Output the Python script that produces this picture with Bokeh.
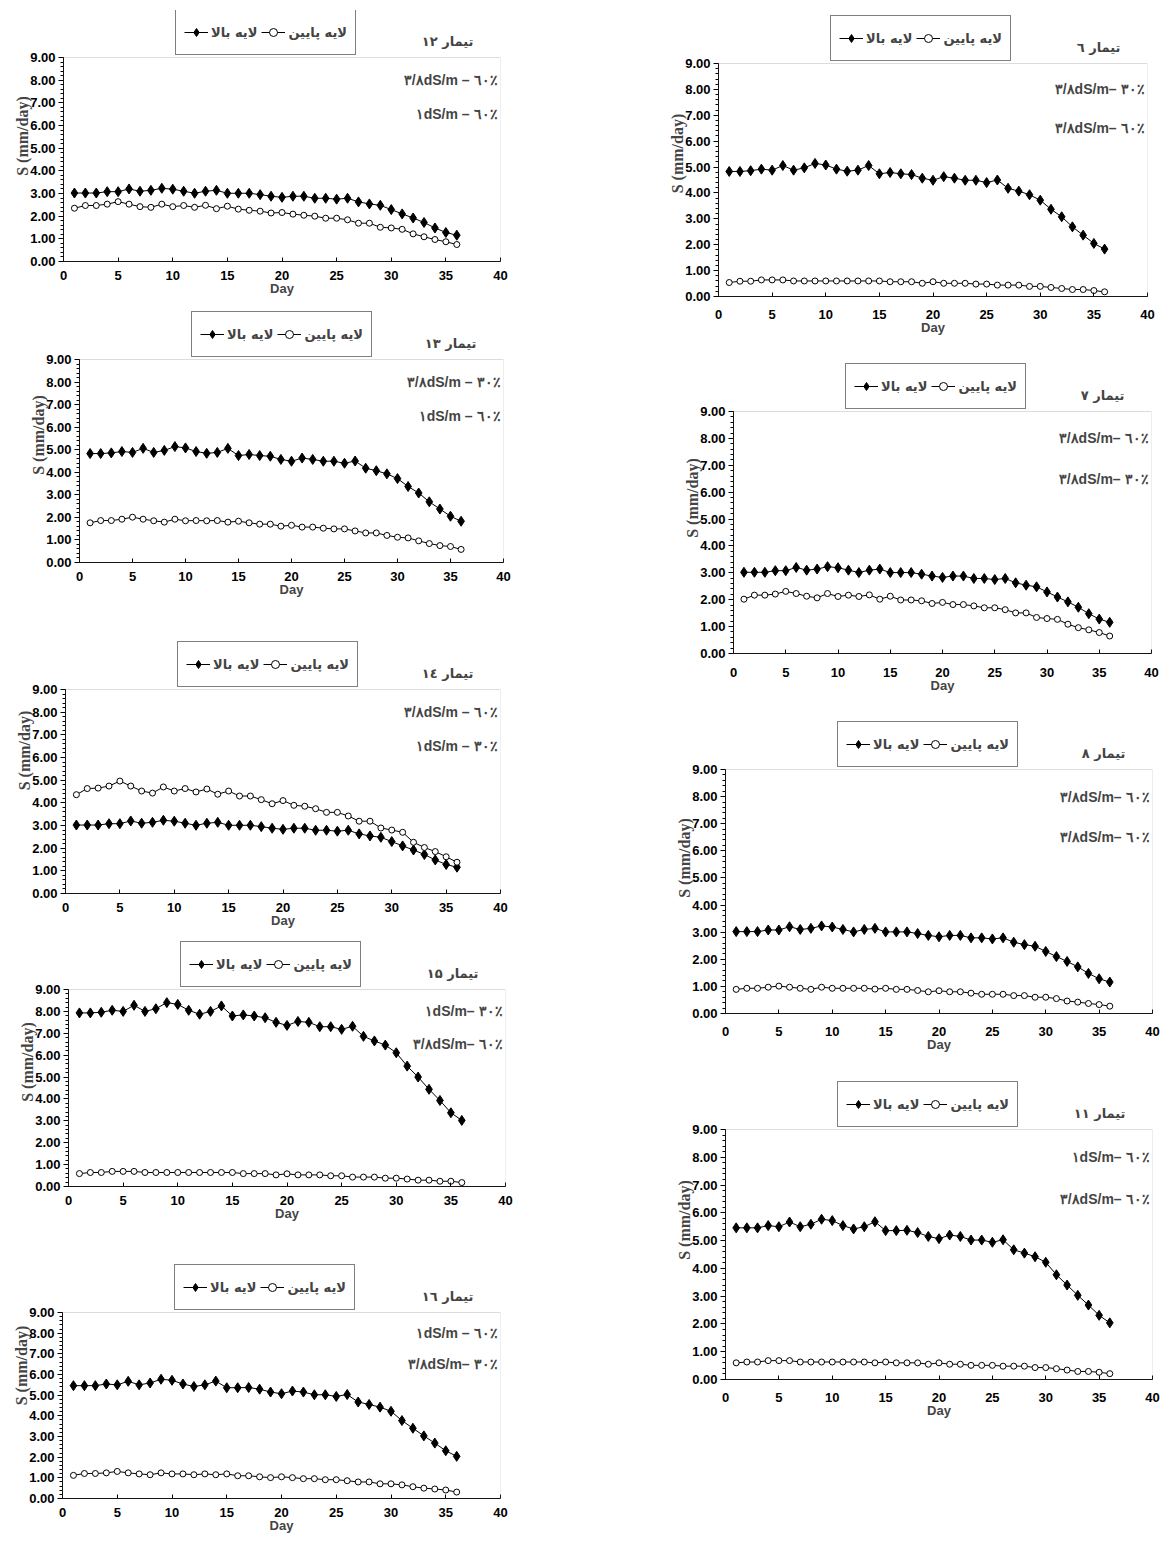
from bokeh.plotting import figure
from bokeh.models import (Range1d, Label, Legend, LegendItem, FixedTicker,
                          NumeralTickFormatter, Spacer, BoxAnnotation)
from bokeh.layouts import row, column
from bokeh.embed import file_html
from bokeh.resources import INLINE

DAYS = list(range(1, 37))
X_TICKS = [0, 5, 10, 15, 20, 25, 30, 35, 40]
Y_TICKS = [0, 1, 2, 3, 4, 5, 6, 7, 8, 9]
LABEL_UP = "لایه بالا"
LABEL_LOW = "لایه پایین"

# upper layer series (shared shapes)
UP_A = [3.02, 3.02, 3.02, 3.08, 3.08, 3.20, 3.10, 3.14, 3.23, 3.19, 3.10, 3.01, 3.10, 3.14, 3.01, 3.01, 3.01, 2.95,
        2.88, 2.83, 2.88, 2.88, 2.79, 2.79, 2.75, 2.79, 2.63, 2.54, 2.48, 2.29, 2.10, 1.92, 1.72, 1.48, 1.28, 1.16]
UP_B = [4.83, 4.83, 4.86, 4.92, 4.88, 5.06, 4.88, 4.97, 5.14, 5.08, 4.92, 4.84, 4.88, 5.06, 4.74, 4.79, 4.74, 4.71,
        4.57, 4.49, 4.63, 4.57, 4.49, 4.49, 4.40, 4.50, 4.18, 4.07, 3.93, 3.72, 3.37, 3.08, 2.69, 2.37, 2.05, 1.83]
UP_C = [5.46, 5.46, 5.46, 5.54, 5.50, 5.67, 5.50, 5.59, 5.77, 5.72, 5.54, 5.42, 5.50, 5.68, 5.36, 5.36, 5.37, 5.29,
        5.15, 5.07, 5.20, 5.15, 5.02, 5.02, 4.94, 5.03, 4.67, 4.55, 4.42, 4.22, 3.77, 3.40, 3.03, 2.68, 2.31, 2.04]
UP_D = [7.93, 7.93, 7.96, 8.05, 8.00, 8.28, 8.00, 8.12, 8.40, 8.32, 8.05, 7.87, 8.00, 8.25, 7.79, 7.84, 7.79, 7.71,
        7.50, 7.36, 7.54, 7.50, 7.30, 7.30, 7.18, 7.32, 6.86, 6.65, 6.46, 6.11, 5.50, 5.00, 4.44, 3.93, 3.37, 3.02]

# lower layer series
LOW_12 = [2.35, 2.47, 2.47, 2.53, 2.64, 2.53, 2.42, 2.39, 2.53, 2.42, 2.47, 2.39, 2.48, 2.33, 2.44, 2.31, 2.26, 2.22,
          2.14, 2.16, 2.09, 2.04, 2.00, 1.91, 1.91, 1.84, 1.69, 1.69, 1.51, 1.48, 1.42, 1.22, 1.09, 0.97, 0.87, 0.75]
LOW_13 = [1.76, 1.86, 1.86, 1.92, 2.01, 1.92, 1.85, 1.79, 1.92, 1.85, 1.86, 1.85, 1.86, 1.79, 1.83, 1.76, 1.70, 1.70,
          1.61, 1.65, 1.57, 1.57, 1.52, 1.49, 1.49, 1.40, 1.31, 1.31, 1.20, 1.12, 1.09, 0.96, 0.84, 0.75, 0.71, 0.58]
LOW_14 = [4.36, 4.63, 4.65, 4.74, 4.96, 4.74, 4.52, 4.43, 4.70, 4.52, 4.63, 4.48, 4.61, 4.38, 4.52, 4.30, 4.30, 4.14,
          3.96, 4.10, 3.89, 3.85, 3.74, 3.58, 3.58, 3.42, 3.19, 3.19, 2.89, 2.80, 2.70, 2.26, 2.03, 1.85, 1.62, 1.38]
LOW_15 = [0.59, 0.64, 0.64, 0.69, 0.69, 0.69, 0.64, 0.64, 0.64, 0.64, 0.64, 0.64, 0.64, 0.64, 0.64, 0.59, 0.59, 0.59,
          0.53, 0.58, 0.53, 0.53, 0.53, 0.49, 0.49, 0.43, 0.43, 0.43, 0.38, 0.38, 0.34, 0.29, 0.29, 0.24, 0.24, 0.18]
LOW_16 = [1.12, 1.21, 1.21, 1.24, 1.31, 1.24, 1.19, 1.15, 1.24, 1.19, 1.19, 1.15, 1.19, 1.15, 1.19, 1.10, 1.10, 1.05,
          1.01, 1.05, 1.01, 0.96, 0.96, 0.91, 0.91, 0.86, 0.80, 0.80, 0.71, 0.71, 0.66, 0.57, 0.50, 0.46, 0.41, 0.31]
LOW_6 = [0.54, 0.59, 0.59, 0.64, 0.64, 0.64, 0.60, 0.60, 0.60, 0.60, 0.60, 0.60, 0.60, 0.60, 0.60, 0.57, 0.57, 0.57,
         0.51, 0.57, 0.51, 0.51, 0.51, 0.48, 0.48, 0.44, 0.44, 0.44, 0.39, 0.39, 0.35, 0.31, 0.27, 0.27, 0.23, 0.18]
LOW_7 = [2.02, 2.17, 2.17, 2.21, 2.31, 2.23, 2.13, 2.07, 2.23, 2.12, 2.17, 2.12, 2.18, 2.02, 2.13, 1.99, 1.99, 1.96,
         1.86, 1.90, 1.82, 1.82, 1.77, 1.70, 1.70, 1.63, 1.51, 1.51, 1.34, 1.30, 1.27, 1.09, 0.96, 0.88, 0.78, 0.65]
LOW_8 = [0.89, 0.93, 0.93, 0.97, 1.01, 0.97, 0.93, 0.89, 0.97, 0.93, 0.93, 0.93, 0.93, 0.90, 0.93, 0.89, 0.89, 0.85,
         0.80, 0.84, 0.80, 0.80, 0.75, 0.71, 0.71, 0.71, 0.66, 0.66, 0.60, 0.60, 0.55, 0.46, 0.42, 0.37, 0.33, 0.27]
LOW_11 = [0.60, 0.63, 0.63, 0.68, 0.68, 0.68, 0.63, 0.63, 0.63, 0.63, 0.63, 0.63, 0.63, 0.60, 0.63, 0.60, 0.60, 0.60,
          0.55, 0.60, 0.55, 0.55, 0.51, 0.51, 0.51, 0.48, 0.48, 0.48, 0.43, 0.43, 0.39, 0.34, 0.29, 0.29, 0.26, 0.21]

TITLES = {
    "12": "تیمار ۱۲", "13": "تیمار ۱۳", "14": "تیمار ۱٤", "15": "تیمار ۱۵", "16": "تیمار ۱٦",
    "6": "تیمار ٦", "7": "تیمار ۷", "8": "تیمار ۸", "11": "تیمار ۱۱",
}
NOTES = {
    "12": ("۳/۸dS/m – ٦٠٪", "۱dS/m – ٦٠٪"),
    "13": ("۳/۸dS/m – ۳٠٪", "۱dS/m – ٦٠٪"),
    "14": ("۳/۸dS/m – ٦٠٪", "۱dS/m – ۳٠٪"),
    "15": ("۱dS/m– ۳٠٪", "۳/۸dS/m– ٦٠٪"),
    "16": ("۱dS/m – ٦٠٪", "۳/۸dS/m– ۳٠٪"),
    "6": ("۳/۸dS/m– ۳٠٪", "۳/۸dS/m– ٦٠٪"),
    "7": ("۳/۸dS/m– ٦٠٪", "۳/۸dS/m– ۳٠٪"),
    "8": ("۳/۸dS/m– ٦٠٪", "۳/۸dS/m– ٦٠٪"),
    "11": ("۱dS/m– ٦٠٪", "۳/۸dS/m– ٦٠٪"),
}

AR_FONT = "DejaVu Sans"
NUM_FONT = "Liberation Sans"
TOP_PAD = 2


def make_panel(key, upper, lower, width, height, bl, br, bt, bb, xstand):
    ph = height - bt - bb           # pixel height of the 0..9 area
    pt = bt - TOP_PAD               # pixel height of the header strip (legend/title)
    y_end = 9 * (ph + pt) / ph
    p = figure(width=width, height=height, x_range=Range1d(0, 40), y_range=Range1d(0, y_end),
               output_backend="svg", toolbar_location=None, frame_align=False,
               min_border_left=bl, min_border_right=br, min_border_top=TOP_PAD, min_border_bottom=bb)
    p.xgrid.visible = False
    p.ygrid.visible = False
    p.outline_line_color = None
    p.background_fill_color = "white"
    p.border_fill_color = "white"
    p.add_layout(BoxAnnotation(left=0, right=40, bottom=0, top=9, fill_alpha=0,
                               line_color="#8c8c8c", line_width=1))

    p.xaxis.ticker = FixedTicker(ticks=X_TICKS)
    p.yaxis.ticker = FixedTicker(ticks=Y_TICKS, minor_ticks=[i / 5 for i in range(46)])
    p.yaxis.formatter = NumeralTickFormatter(format="0.00")
    p.yaxis.bounds = (0, 9)
    for ax in (p.xaxis[0], p.yaxis[0]):
        ax.axis_line_color = "black"
        ax.major_tick_line_color = "black"
        ax.minor_tick_line_color = "black"
        ax.major_label_text_font = NUM_FONT
        ax.major_label_text_font_style = "bold"
        ax.major_label_text_font_size = "13px"
        ax.major_label_text_color = "black"
    p.xaxis.major_tick_in = 4
    p.xaxis.major_tick_out = 0
    p.xaxis.minor_tick_in = 0
    p.xaxis.minor_tick_out = 0
    p.xaxis.major_label_standoff = xstand
    p.xaxis.axis_label = "Day"
    p.xaxis.axis_label_text_font = NUM_FONT
    p.xaxis.axis_label_text_font_style = "bold"
    p.xaxis.axis_label_text_font_size = "13px"
    p.xaxis.axis_label_standoff = -2
    p.yaxis.major_tick_in = 0
    p.yaxis.major_tick_out = 5
    p.yaxis.minor_tick_in = 0
    p.yaxis.minor_tick_out = 3
    p.yaxis.major_label_standoff = 3
    p.yaxis.axis_label = "S (mm/day)"
    p.yaxis.axis_label_text_font = "Liberation Serif"
    p.yaxis.axis_label_text_font_style = "bold"
    p.yaxis.axis_label_text_font_size = "16px"
    p.yaxis.axis_label_standoff = -4

    lu = p.line(DAYS, upper, line_color="black", line_width=1)
    su = p.scatter(DAYS, upper, marker="diamond", size=10, fill_color="black", line_color="black")
    ll = p.line(DAYS, lower, line_color="black", line_width=1)
    sl = p.scatter(DAYS, lower, marker="circle", size=6, fill_color="white", line_color="black", line_width=1)

    legend = Legend(
        items=[LegendItem(label=LABEL_UP, renderers=[lu, su]),
               LegendItem(label=LABEL_LOW, renderers=[ll, sl])],
        orientation="horizontal", location=(112, ph + 2),
        border_line_color="black", border_line_width=1, background_fill_color="white",
        background_fill_alpha=1, padding=8, spacing=4, margin=0,
        glyph_width=24, glyph_height=20, label_height=28, label_standoff=3,
        label_text_font=AR_FONT, label_text_font_style="bold", label_text_font_size="13px",
    )
    p.add_layout(legend)

    p.add_layout(Label(x=40, y=9, x_offset=-27, y_offset=16, text=TITLES[key],
                       text_align="right", text_baseline="middle", text_font=AR_FONT,
                       text_font_style="bold", text_font_size="13px"))
    n1, n2 = NOTES[key]
    for yv, t in ((8.0, n1), (6.5, n2)):
        p.add_layout(Label(x=40, y=yv, x_offset=-3, text=t, text_align="right",
                           text_baseline="middle", text_font=NUM_FONT,
                           text_font_style="bold", text_font_size="14px"))
    return p


WL = 520
WR = 514
left = column(
    make_panel("12", UP_A, LOW_12, WL, 297, 55, 28, 49, 44, 9),
    make_panel("13", UP_B, LOW_13, WL, 300, 71, 25, 54, 43, 9),
    make_panel("14", UP_A, LOW_14, WL, 330, 57, 28, 84, 42, 9),
    make_panel("15", UP_D, LOW_15, WL, 295, 60, 23, 54, 44, 9),
    make_panel("16", UP_C, LOW_16, WL, 306, 54, 28, 82, 38, 9),
)
right = column(
    make_panel("6", UP_B, LOW_6, WR, 332, 70, 15, 55, 44, 13),
    make_panel("7", UP_A, LOW_7, WR, 360, 85, 11, 71, 47, 14),
    make_panel("8", UP_A, LOW_8, WR, 358, 77, 10, 69, 45, 13),
    make_panel("11", UP_C, LOW_11, WR, 367, 77, 10, 71, 46, 13),
)
layout = column(Spacer(width=10, height=8),
                row(Spacer(width=8, height=10), left, Spacer(width=120, height=10), right))

open("out.html", "w").write(file_html(layout, INLINE))
